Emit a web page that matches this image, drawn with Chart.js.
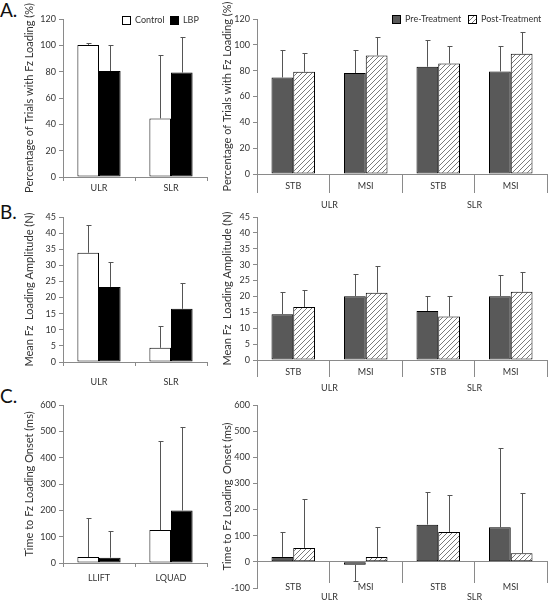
<!DOCTYPE html>
<html><head><meta charset="utf-8">
<script src="https://cdn.jsdelivr.net/npm/chart.js@4.4.1/dist/chart.umd.min.js"></script>
<style>
body{margin:0;background:#fff;width:551px;height:600px;overflow:hidden;position:relative;font-family:Lato,sans-serif}
canvas{position:absolute;left:0;top:0}
.lbl{position:absolute;font-size:19px;color:#111;line-height:1;font-family:Lato,sans-serif}
</style></head><body>
<div class="lbl" style="left:0;top:0px">A.</div>
<div class="lbl" style="left:0;top:202px">B.</div>
<div class="lbl" style="left:0;top:386px">C.</div>
<canvas id="aL" width="551" height="600"></canvas>
<canvas id="aR" width="551" height="600"></canvas>
<canvas id="bL" width="551" height="600"></canvas>
<canvas id="bR" width="551" height="600"></canvas>
<canvas id="cL" width="551" height="600"></canvas>
<canvas id="cR" width="551" height="600"></canvas>
<script>
// ---------- data ----------
const legendGroup = ['Control', 'LBP'];
const legendTreat = ['Pre-Treatment', 'Post-Treatment'];
const taskCats = ['ULR', 'SLR'];
const condCats = ['LLIFT', 'LQUAD'];
const subCats = ['STB', 'MSI', 'STB', 'MSI'];
const groupNames = ['ULR', 'SLR'];

const aControl = [100.3, 44.5];
const aControlErr = [1.4, 48.3];
const aLBP = [80.5, 79.3];
const aLBPErr = [19.4, 26.7];
const aPre = [74.7, 78.1, 83.0, 79.4];
const aPreErr = [21.5, 18.1, 20.7, 19.4];
const aPost = [79.1, 91.8, 85.6, 93.1];
const aPostErr = [14.5, 14.5, 13.5, 16.8];

const bControl = [33.9, 4.4];
const bControlErr = [8.5, 6.7];
const bLBP = [23.3, 16.5];
const bLBPErr = [7.8, 7.9];
const bPre = [14.4, 20.1, 15.4, 20.1];
const bPreErr = [7.1, 7.1, 4.7, 6.5];
const bPost = [16.7, 21.2, 13.7, 21.5];
const bPostErr = [5.3, 8.3, 6.4, 6.1];

const cControl = [22.7, 125];
const cControlErr = [147.8, 340];
const cLBP = [20, 199.6];
const cLBPErr = [102.5, 317];
const cPre = [19, -11.4, 142.4, 132.2];
const cPreErr = [94, 62.3, 125.6, 302.5];
const cPost = [53.4, 19, 114.4, 33];
const cPostErr = [188, 115.7, 141, 230];

// ---------- styles ----------
const AX = '#8a8a8a', TXT = '#333333', ERR = '#555555', PRE = '#595959';
Chart.defaults.font.family = 'Lato, sans-serif';
Chart.defaults.font.size = 9;
Chart.defaults.color = TXT;

function hatchPattern() {
  const s = 5, c = document.createElement('canvas');
  c.width = s; c.height = s;
  const x = c.getContext('2d');
  x.fillStyle = '#fff'; x.fillRect(0, 0, s, s);
  x.strokeStyle = '#7a7a7a'; x.lineWidth = 1;
  x.beginPath();
  x.moveTo(0, s); x.lineTo(s, 0);
  x.moveTo(-1, 1); x.lineTo(1, -1);
  x.moveTo(s - 1, s + 1); x.lineTo(s + 1, s - 1);
  x.stroke();
  return document.createElement('canvas').getContext('2d').createPattern(c, 'repeat');
}
const HATCH = hatchPattern();

const errPlugin = {
  id: 'err',
  afterDatasetsDraw(chart) {
    const ctx = chart.ctx, ys = chart.scales.y;
    chart.data.datasets.forEach((ds, i) => {
      if (!ds.errors) return;
      chart.getDatasetMeta(i).data.forEach((bar, j) => {
        const v = ds.data[j], e = ds.errors[j];
        const end = v < 0 ? v - e : v + e;
        const x = Math.round(bar.x) + 0.5;
        const y1 = Math.round(ys.getPixelForValue(end)) + 0.5;
        ctx.save();
        ctx.strokeStyle = ERR; ctx.lineWidth = 1;
        ctx.beginPath();
        ctx.moveTo(x, bar.y); ctx.lineTo(x, y1);
        ctx.moveTo(x - 2, y1); ctx.lineTo(x + 3, y1);
        ctx.stroke();
        ctx.restore();
      });
    });
  }
};

const grpPlugin = {
  id: 'grp',
  afterDraw(chart, args, opts) {
    if (!opts || !opts.labels) return;
    const ctx = chart.ctx, xs = chart.scales.x;
    ctx.save();
    ctx.fillStyle = TXT; ctx.font = '9px Lato, sans-serif';
    ctx.textAlign = 'center'; ctx.textBaseline = 'middle';
    opts.labels.forEach((t, i) => {
      const px = (xs.getPixelForValue(2 * i) + xs.getPixelForValue(2 * i + 1)) / 2;
      ctx.fillText(t, px, opts.y);
    });
    ctx.restore();
  }
};

const lgPlugin = {
  id: 'lg',
  afterDraw(chart, args, opts) {
    if (!opts || !opts.items) return;
    const ctx = chart.ctx;
    ctx.save();
    opts.items.forEach(it => {
      ctx.fillStyle = it.fill;
      ctx.fillRect(it.x, it.y, 8, 8);
      ctx.strokeStyle = '#000'; ctx.lineWidth = 1;
      ctx.strokeRect(it.x + 0.5, it.y + 0.5, 8, 8);
      ctx.fillStyle = TXT; ctx.font = '9px Lato, sans-serif';
      ctx.textAlign = 'left'; ctx.textBaseline = 'middle';
      ctx.fillText(it.text, it.x + 13, it.y + 4.5);
    });
    ctx.restore();
  }
};

function bar(label, data, errors, fill, pct) {
  return { label, data, errors, backgroundColor: fill, borderColor: '#000', borderWidth: 1,
    borderSkipped: false, categoryPercentage: pct, barPercentage: 1 };
}

function make(id, o) {
  const xH = 30;
  new Chart(document.getElementById(id), {
    type: 'bar',
    data: { labels: o.labels, datasets: o.datasets },
    plugins: [errPlugin, grpPlugin, lgPlugin],
    options: {
      responsive: false, animation: false, events: [],
      layout: { padding: { left: o.padLeft, top: o.area.t, right: 551 - o.area.r,
        bottom: o.zeroAxis ? 600 - o.area.b : 600 - o.area.b - xH } },
      plugins: { legend: { display: false }, tooltip: { enabled: false },
        grp: o.groups || {}, lg: o.legend || {} },
      scales: {
        x: {
          type: 'category', offset: true,
          position: o.zeroAxis ? { y: 0 } : 'bottom',
          grid: { offset: true, drawOnChartArea: false, drawTicks: true, tickLength: o.tl, color: AX },
          border: { display: true, color: AX },
          ticks: { padding: o.tp, color: TXT, maxRotation: 0, autoSkip: false },
          afterFit: s => { s.height = xH; }
        },
        y: {
          min: o.y.min, max: o.y.max,
          ticks: { stepSize: o.y.step, padding: 3, color: TXT },
          grid: { drawOnChartArea: false, tickLength: 4, color: AX },
          border: { display: true, color: AX },
          title: { display: true, text: o.y.title, color: TXT, font: { size: 11 },
            padding: { top: o.y.tpad, bottom: 0 } },
          afterFit: s => { s.width = o.area.l - o.padLeft; }
        }
      }
    }
  });
}

const LP = 0.6, RP = 0.6;
const titleA = 'Percentage of Trials with Fz Loading (%)';
const titleB = 'Mean Fz  Loading Amplitude (N)';

make('aL', {
  labels: taskCats, padLeft: 0, area: { l: 63, r: 207, t: 19, b: 177 }, tl: 4, tp: 2,
  y: { min: 0, max: 120, step: 20, title: titleA, tpad: 23 },
  datasets: [bar(legendGroup[0], aControl, aControlErr, '#fff', LP), bar(legendGroup[1], aLBP, aLBPErr, '#000', LP)],
  legend: { items: [{ x: 122, y: 16, fill: '#fff', text: legendGroup[0] }, { x: 170, y: 16, fill: '#000', text: legendGroup[1] }] }
});
make('aR', {
  labels: subCats, padLeft: 200, area: { l: 257, r: 547, t: 19, b: 174 }, tl: 19, tp: -12.4,
  y: { min: 0, max: 120, step: 20, title: titleA, tpad: 21 },
  datasets: [bar(legendTreat[0], aPre, aPreErr, PRE, RP), bar(legendTreat[1], aPost, aPostErr, HATCH, RP)],
  groups: { labels: groupNames, y: 205 },
  legend: { items: [{ x: 392, y: 15, fill: PRE, text: legendTreat[0] }, { x: 468, y: 15, fill: HATCH, text: legendTreat[1] }] }
});
make('bL', {
  labels: taskCats, padLeft: 0, area: { l: 63, r: 207, t: 217, b: 362 }, tl: 4, tp: 10.6,
  y: { min: 0, max: 45, step: 5, title: titleB, tpad: 23 },
  datasets: [bar(legendGroup[0], bControl, bControlErr, '#fff', LP), bar(legendGroup[1], bLBP, bLBPErr, '#000', LP)]
});
make('bR', {
  labels: subCats, padLeft: 200, area: { l: 257, r: 547, t: 217, b: 360 }, tl: 17, tp: -10.4,
  y: { min: 0, max: 45, step: 5, title: titleB, tpad: 21 },
  datasets: [bar(legendTreat[0], bPre, bPreErr, PRE, RP), bar(legendTreat[1], bPost, bPostErr, HATCH, RP)],
  groups: { labels: groupNames, y: 388 }
});
make('cL', {
  labels: condCats, padLeft: 0, area: { l: 63, r: 207, t: 405, b: 563 }, tl: 4, tp: 5.6,
  y: { min: 0, max: 600, step: 100, title: 'Time to Fz Loading Onset (ms)', tpad: 23 },
  datasets: [bar(legendGroup[0], cControl, cControlErr, '#fff', LP), bar(legendGroup[1], cLBP, cLBPErr, '#000', LP)]
});
make('cR', {
  labels: subCats, padLeft: 200, area: { l: 257, r: 547, t: 405, b: 588 }, tl: 21, tp: -1.4, zeroAxis: true,
  y: { min: -100, max: 600, step: 100, title: 'Time to Fz Loading  Onset (ms)', tpad: 21 },
  datasets: [bar(legendTreat[0], cPre, cPreErr, PRE, RP), bar(legendTreat[1], cPost, cPostErr, HATCH, RP)],
  groups: { labels: groupNames, y: 597 }
});
</script>
</body></html>
